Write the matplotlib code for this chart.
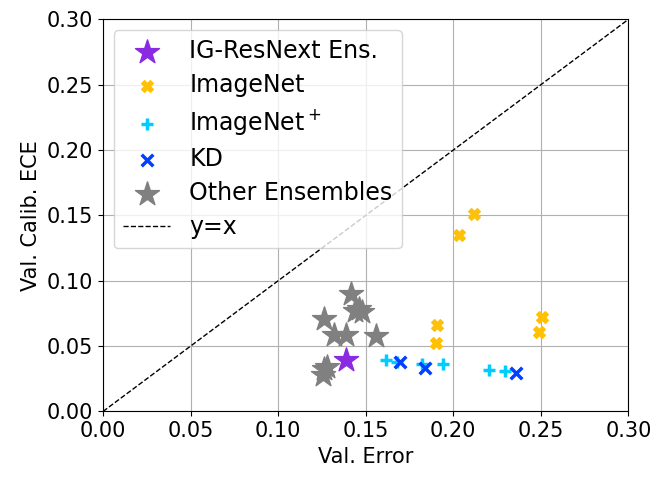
import matplotlib
matplotlib.use("Agg")
import matplotlib.pyplot as plt
import numpy as np

# IG-ResNext ensemble
ig_err = [0.1387]
ig_ece = [0.039]

# ImageNet models
in_err = [0.212, 0.2034, 0.1907, 0.190, 0.2509, 0.2488]
in_ece = [0.151, 0.135, 0.066, 0.052, 0.0724, 0.0604]

# ImageNet+ models
inp_err = [0.1617, 0.168, 0.182, 0.194, 0.2204, 0.2295]
inp_ece = [0.0397, 0.0378, 0.036, 0.036, 0.032, 0.0307]

# knowledge distillation
kd_err = [0.1697, 0.184, 0.2356]
kd_ece = [0.0378, 0.0335, 0.0294]

# other ensembles
oth_err = [0.1417, 0.144, 0.146, 0.148, 0.1259, 0.1316, 0.1389, 0.156, 0.1259, 0.1278, 0.1255]
oth_ece = [0.0898, 0.077, 0.078, 0.076, 0.0704, 0.0583, 0.0583, 0.0575, 0.0327, 0.034, 0.0276]

plt.rcParams['font.size'] = 15

fig, ax = plt.subplots(figsize=(6.65, 4.84), dpi=100)

ax.scatter(oth_err, oth_ece, marker='*', s=330, color='gray', label='Other Ensembles', zorder=3)
ax.scatter(in_err, in_ece, marker='X', s=70, color='#ffc107', label='ImageNet', zorder=3)
ax.scatter(inp_err, inp_ece, marker='+', s=70, linewidths=2.5, color='#00ccff', label='ImageNet$^+$', zorder=3)
ax.scatter(kd_err, kd_ece, marker='x', s=70, linewidths=2.5, color='#0040ff', label='KD', zorder=3)
ax.scatter(ig_err, ig_ece, marker='*', s=330, color='#8a2be2', label='IG-ResNext Ens.', zorder=3)
line, = ax.plot([0, 0.3], [0, 0.3], 'k--', lw=1, label='y=x')

ax.set_xlim(0, 0.3)
ax.set_ylim(0, 0.3)
ax.set_xticks(np.arange(0, 0.31, 0.05))
ax.set_yticks(np.arange(0, 0.31, 0.05))
ax.grid(True)
ax.set_xlabel('Val. Error')
ax.set_ylabel('Val. Calib. ECE')

handles, labels = ax.get_legend_handles_labels()
order = ['IG-ResNext Ens.', 'ImageNet', 'ImageNet$^+$', 'KD', 'Other Ensembles', 'y=x']
h = [handles[labels.index(o)] for o in order]
ax.legend(h, order, loc='upper left', borderaxespad=0.45, fontsize=17, labelspacing=0.42)

fig.subplots_adjust(left=0.155, right=0.945, top=0.96, bottom=0.15)
fig.savefig('out.png')
